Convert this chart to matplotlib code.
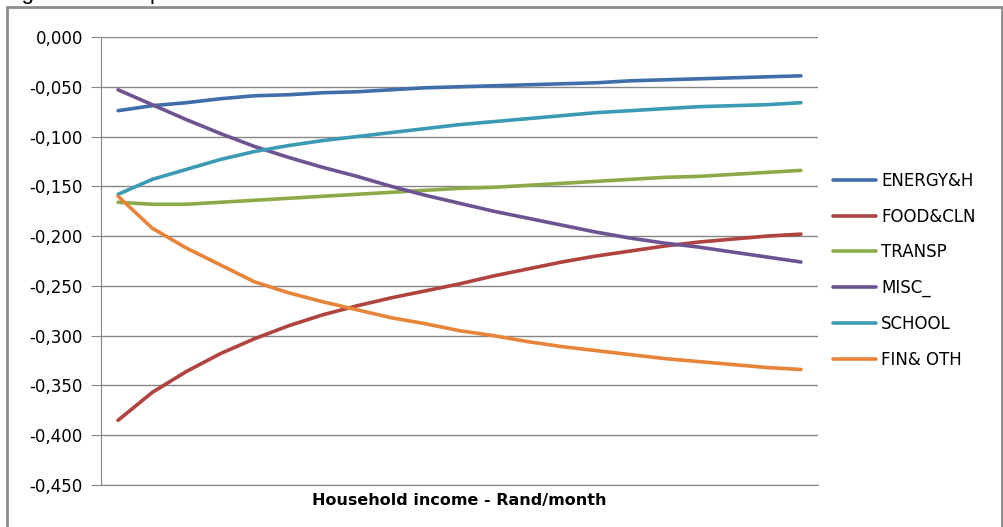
import matplotlib
matplotlib.use("Agg")
import matplotlib.pyplot as plt
from matplotlib.patches import Rectangle
from matplotlib.ticker import FuncFormatter

plt.rcParams['font.family'] = ['DejaVu Sans']

series_names = ["ENERGY&H", "FOOD&CLN", "TRANSP", "MISC_", "SCHOOL", "FIN& OTH"]
colors = ["#3F6EAA", "#B0423F", "#8AAB48", "#6E5392", "#3B9BB4", "#E8843A"]

energy = [-0.074, -0.069, -0.066, -0.062, -0.059, -0.058, -0.056, -0.055, -0.053, -0.051,
          -0.050, -0.049, -0.048, -0.047, -0.046, -0.044, -0.043, -0.042, -0.041, -0.040, -0.039]
food = [-0.385, -0.357, -0.336, -0.318, -0.303, -0.290, -0.279, -0.270, -0.262, -0.255,
        -0.248, -0.240, -0.233, -0.226, -0.220, -0.215, -0.210, -0.206, -0.203, -0.200, -0.198]
transp = [-0.166, -0.168, -0.168, -0.166, -0.164, -0.162, -0.160, -0.158, -0.156, -0.154,
          -0.152, -0.151, -0.149, -0.147, -0.145, -0.143, -0.141, -0.140, -0.138, -0.136, -0.134]
misc = [-0.053, -0.068, -0.083, -0.097, -0.110, -0.121, -0.131, -0.140, -0.150, -0.159,
        -0.167, -0.175, -0.182, -0.189, -0.196, -0.202, -0.207, -0.211, -0.216, -0.221, -0.226]
school = [-0.158, -0.143, -0.133, -0.123, -0.115, -0.109, -0.104, -0.100, -0.096, -0.092,
          -0.088, -0.085, -0.082, -0.079, -0.076, -0.074, -0.072, -0.070, -0.069, -0.068, -0.066]
finoth = [-0.160, -0.192, -0.212, -0.229, -0.246, -0.257, -0.266, -0.274, -0.282, -0.288,
          -0.295, -0.300, -0.306, -0.311, -0.315, -0.319, -0.323, -0.326, -0.329, -0.332, -0.334]

all_series = [energy, food, transp, misc, school, finoth]
x_label = "Household income - Rand/month"
title_text = "Figure 4: Own-price elasticities with income"

W, H = 1004, 527
fig = plt.figure(figsize=(W / 100, H / 100), dpi=100)

# outer chart border
fig.patches.append(Rectangle((7 / W, -0.1), (1002 - 7) / W, 1.1 - 7 / H,
                             transform=fig.transFigure, fill=False,
                             edgecolor="#8C8C8C", linewidth=2))
# title, mostly cut off by the top edge as in the reference
fig.text(3 / W, 1 + 1 / H, title_text, fontsize=16, va="baseline", ha="left",
         family=["Liberation Sans"])

ax = fig.add_axes([101 / W, 1 - 485 / H, (818 - 101) / W, (485 - 37) / H])
n = len(energy)
xs = list(range(n))
for name, vals, c in zip(series_names, all_series, colors):
    ax.plot(xs, vals, color=c, linewidth=2.6, label=name, solid_capstyle="round")

ax.set_xlim(-0.5, n - 0.5)
ax.set_ylim(-0.45, 0.0)
ax.set_yticks([-0.45 + 0.05 * i for i in range(10)])
ax.yaxis.set_major_formatter(FuncFormatter(lambda v, p: f"{v:.3f}".replace(".", ",").replace("-0,000", "0,000")))
ax.set_xticks([])
ax.grid(axis="y", color="#868686", linewidth=1)
ax.set_axisbelow(True)
for s in ["top", "right"]:
    ax.spines[s].set_visible(False)
ax.spines["left"].set_color("#868686")
ax.spines["bottom"].set_color("#868686")
ax.tick_params(axis="y", length=7, color="#868686", labelsize=12, pad=6)
ax.set_xlabel(x_label, fontsize=11.5, fontweight="bold", labelpad=6)

leg = fig.legend(loc="upper left", bbox_to_anchor=(826 / W, 1 - 165 / H),
                 frameon=False, fontsize=12, handlelength=2.6, handletextpad=0.3,
                 labelspacing=1.07, borderaxespad=0)

fig.savefig("out.png", dpi=100)
